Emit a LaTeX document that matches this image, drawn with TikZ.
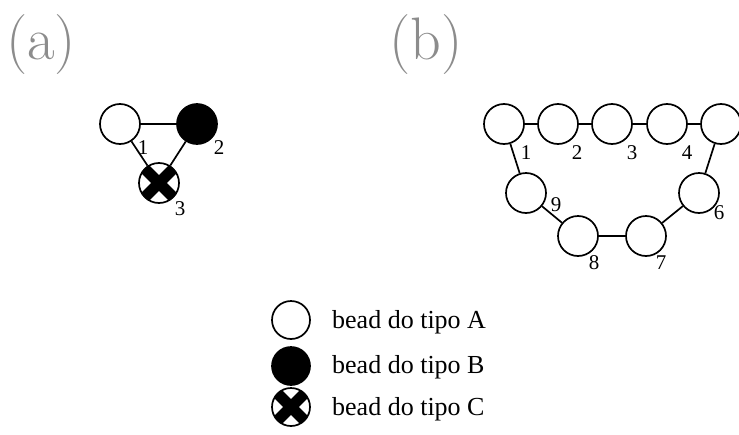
\documentclass[tikz,border=0pt]{standalone}
\usepackage{fontspec}
\newfontfamily\tnr{Liberation Serif}
\begin{document}
\begin{tikzpicture}[x=1pt,y=-1pt,
  bead/.style={circle,draw=black,line width=1.7pt,minimum size=40pt,inner sep=0pt},
  beadA/.style={bead,fill=white},
  beadB/.style={bead,fill=black},
  beadC/.style={bead,fill=white,path picture={
      \draw[line width=11pt,black] (path picture bounding box.south west) -- (path picture bounding box.north east)
        (path picture bounding box.north west) -- (path picture bounding box.south east);}},
  bond/.style={line width=1.7pt,black},
  num/.style={font=\tnr\fontsize{21}{21}\selectfont,inner sep=0pt},
  leg/.style={font=\tnr\fontsize{26}{26}\selectfont,inner sep=0pt,anchor=base west},
  title/.style={font=\fontsize{60}{60}\selectfont,text=black!45,inner sep=0pt,anchor=base west}
]
\useasboundingbox (0,0) rectangle (739,434);
% titles
\node[title] (ta) at (6,59) {(a)};
\node[title] (tb) at (389,59) {(b)};
% panel (a)
\node[beadA] (a1) at (120,124) {};
\node[beadB] (a2) at (197,124) {};
\node[beadC] (a3) at (159,183) {};
\draw[bond] (a1) -- (a2);
\draw[bond] (a1) -- (a3);
\draw[bond] (a2) -- (a3);
\node[num] (la1) at (143,148) {1};
\node[num] (la2) at (219,148) {2};
\node[num] (la3) at (180,209) {3};
% panel (b)
\node[beadA] (b1) at (504,124) {};
\node[beadA] (b2) at (558,124) {};
\node[beadA] (b3) at (612,124) {};
\node[beadA] (b4) at (667,124) {};
\node[beadA] (b5) at (721,124) {};
\node[beadA] (b6) at (699,193) {};
\node[beadA] (b7) at (646,236) {};
\node[beadA] (b8) at (578,236) {};
\node[beadA] (b9) at (526,193) {};
\draw[bond] (b1) -- (b2);
\draw[bond] (b2) -- (b3);
\draw[bond] (b3) -- (b4);
\draw[bond] (b4) -- (b5);
\draw[bond] (b5) -- (b6);
\draw[bond] (b6) -- (b7);
\draw[bond] (b7) -- (b8);
\draw[bond] (b8) -- (b9);
\draw[bond] (b9) -- (b1);
\node[num] (lb1) at (526,153) {1};
\node[num] (lb2) at (577,153) {2};
\node[num] (lb3) at (632,153) {3};
\node[num] (lb4) at (687,153) {4};
\node[num] (lb5) at (743,153) {5};
\node[num] (lb6) at (719,213) {6};
\node[num] (lb7) at (661,263) {7};
\node[num] (lb8) at (594,263) {8};
\node[num] (lb9) at (556,205) {9};
% legend
\node[beadA,minimum size=38pt] (kA) at (291,320) {};
\node[beadB,minimum size=38pt] (kB) at (291,366) {};
\node[beadC,minimum size=38pt] (kC) at (291,407) {};
\node[leg] (tA) at (332,328) {bead do tipo A};
\node[leg] (tB) at (332,373) {bead do tipo B};
\node[leg] (tC) at (332,415) {bead do tipo C};
\end{tikzpicture}
\end{document}
